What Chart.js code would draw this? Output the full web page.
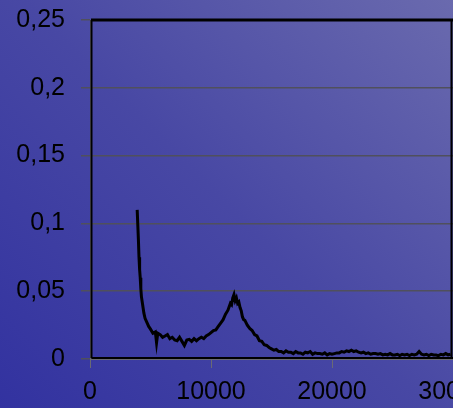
<!DOCTYPE html>
<html lang="es">

<head>
    <meta charset="UTF-8">
    <title>Espectro</title>
    <script src="https://cdn.jsdelivr.net/npm/chart.js"></script>
    <style>
        html, body {
            margin: 0;
            padding: 0;
            width: 453px;
            height: 408px;
            overflow: hidden;
            background: linear-gradient(45deg, #3232a0 0%, #4848a4 50%, #6a6aae 100%);
        }

        #grafica {
            display: block;
        }
    </style>
</head>

<body>
    <canvas id="grafica" width="453" height="408"></canvas>

    <script>
        // Datos del espectro (eje X en unidades de longitud, eje Y intensidad)
        const xValores = [
            3900, 4000, 4050, 4100, 4150, 4200, 4250, 4350, 4450, 4550, 4700, 4850, 5000, 5200, 5400, 5500, 5600, 5800,
            6000, 6200, 6400, 6600, 6800, 7000, 7200, 7400, 7600, 7800, 8000, 8200, 8400, 8600, 8800, 9000, 9200,
            9400, 9600, 9800, 10000, 10200, 10400, 10600, 10800, 11000, 11200, 11400, 11600, 11700, 11800, 11900,
            12000, 12100, 12200, 12300, 12400, 12500, 12600, 12700, 12800, 13000, 13200, 13400, 13600, 13800, 14000,
            14200, 14400, 14600, 14800, 15000, 15200, 15400, 15600, 15800, 16000, 16200, 16400, 16600, 16800, 17000,
            17200, 17400, 17600, 17800, 18000, 18200, 18400, 18600, 18800, 19000, 19200, 19400, 19600, 19800, 20000,
            20200, 20400, 20600, 20800, 21000, 21200, 21400, 21600, 21800, 22000, 22200, 22400, 22600, 22800, 23000,
            23200, 23400, 23600, 23800, 24000, 24200, 24400, 24600, 24800, 25000, 25200, 25400, 25600, 25800, 26000,
            26200, 26400, 26600, 26800, 27000, 27200, 27400, 27600, 27800, 28000, 28200, 28400, 28600, 28800, 29000,
            29200, 29400, 29600, 29800
        ];
        const yValores = [
            0.110, 0.088, 0.075, 0.066, 0.060, 0.052, 0.046, 0.040, 0.034, 0.030, 0.027, 0.024, 0.022, 0.019, 0.020, 0.012, 0.019, 0.018,
            0.016, 0.017, 0.018, 0.015, 0.016, 0.014, 0.0135, 0.016, 0.013, 0.010, 0.014, 0.0145, 0.013, 0.015, 0.0135, 0.015, 0.016,
            0.015, 0.017, 0.018, 0.0195, 0.021, 0.0215, 0.024, 0.0265, 0.029, 0.033, 0.036, 0.041, 0.040, 0.045, 0.0475,
            0.043, 0.045, 0.041, 0.042, 0.038, 0.0355, 0.031, 0.029, 0.0285, 0.025, 0.0225, 0.021, 0.018, 0.017, 0.0135,
            0.013, 0.0105, 0.010, 0.0085, 0.0075, 0.0065, 0.007, 0.0055, 0.0055, 0.0045, 0.006, 0.005, 0.005, 0.004, 0.0055,
            0.0045, 0.0045, 0.0035, 0.005, 0.0045, 0.0055, 0.0035, 0.0045, 0.004, 0.004, 0.0035, 0.0045, 0.003, 0.004, 0.0035,
            0.004, 0.0045, 0.0045, 0.0055, 0.005, 0.006, 0.0055, 0.0065, 0.0055, 0.006, 0.005, 0.0045, 0.005, 0.004, 0.0045,
            0.0035, 0.004, 0.004, 0.0035, 0.004, 0.003, 0.0035, 0.003, 0.004, 0.003, 0.003, 0.0035, 0.0025, 0.0035, 0.003,
            0.0035, 0.0025, 0.0035, 0.003, 0.0035, 0.0055, 0.0035, 0.003, 0.0035, 0.0025, 0.0035, 0.003, 0.003, 0.0025, 0.0035,
            0.003, 0.004, 0.003, 0.0035
        ];
        const ticksY = [0, 0.05, 0.1, 0.15, 0.2, 0.25];
        const ticksX = [0, 10000, 20000, 30000];

        const puntos = xValores.map((x, i) => ({ x: x, y: yValores[i] }));

        // Marco negro del área de trazado
        const marcoArea = {
            id: 'marcoArea',
            afterDatasetsDraw(chart) {
                const { ctx, chartArea } = chart;
                ctx.save();
                ctx.strokeStyle = '#000';
                ctx.lineWidth = 2;
                ctx.beginPath();
                ctx.moveTo(chartArea.left + 1.5, chartArea.bottom - 1);
                ctx.lineTo(chartArea.left + 1.5, chartArea.top);
                ctx.moveTo(chartArea.left + 1.5, chartArea.bottom - 1);
                ctx.lineTo(chartArea.right, chartArea.bottom - 1);
                ctx.moveTo(chartArea.right - 1.5, chartArea.top);
                ctx.lineTo(chartArea.right - 1.5, chartArea.bottom - 1);
                ctx.stroke();
                ctx.lineWidth = 3;
                ctx.beginPath();
                ctx.moveTo(chartArea.left + 1, chartArea.top);
                ctx.lineTo(chartArea.right, chartArea.top);
                ctx.stroke();
                ctx.restore();
            }
        };

        const ctx = document.getElementById('grafica').getContext('2d');
        const chart = new Chart(ctx, {
            type: 'line',
            data: {
                datasets: [{
                    data: puntos,
                    borderColor: '#000',
                    borderWidth: 3,
                    pointRadius: 0,
                    tension: 0,
                    fill: false
                }]
            },
            options: {
                responsive: false,
                animation: false,
                layout: {
                    padding: { top: 20, right: 0, left: 0, bottom: 0 }
                },
                plugins: {
                    legend: { display: false },
                    tooltip: { enabled: false }
                },
                scales: {
                    x: {
                        type: 'linear',
                        min: ticksX[0],
                        max: ticksX[ticksX.length - 1],
                        afterBuildTicks: (scale) => {
                            scale.ticks = ticksX.map(v => ({ value: v }));
                        },
                        afterFit: (scale) => {
                            scale.height = 49;
                            scale.paddingRight = 0;
                            scale.paddingLeft = 0;
                        },
                        border: { color: '#6a6a74', width: 1 },
                        grid: {
                            drawOnChartArea: false,
                            drawTicks: true,
                            tickLength: 9,
                            color: '#6a6a74'
                        },
                        ticks: {
                            color: '#000',
                            padding: 9,
                            maxRotation: 0,
                            font: { family: 'Liberation Sans', size: 25 },
                            callback: (value) => String(value)
                        }
                    },
                    y: {
                        min: ticksY[0],
                        max: ticksY[ticksY.length - 1],
                        afterBuildTicks: (scale) => {
                            scale.ticks = ticksY.map(v => ({ value: v }));
                        },
                        afterFit: (scale) => {
                            scale.width = 90;
                            scale.paddingTop = 0;
                            scale.paddingBottom = 0;
                        },
                        border: { color: '#6a6a74', width: 1 },
                        grid: {
                            color: '#50505c',
                            lineWidth: 1.5,
                            tickLength: 9
                        },
                        ticks: {
                            color: '#000',
                            padding: 16,
                            font: { family: 'Liberation Sans', size: 25 },
                            callback: (value) => String(Math.round(value * 100) / 100).replace('.', ',')
                        }
                    }
                }
            },
            plugins: [marcoArea]
        });
    </script>
</body>

</html>
